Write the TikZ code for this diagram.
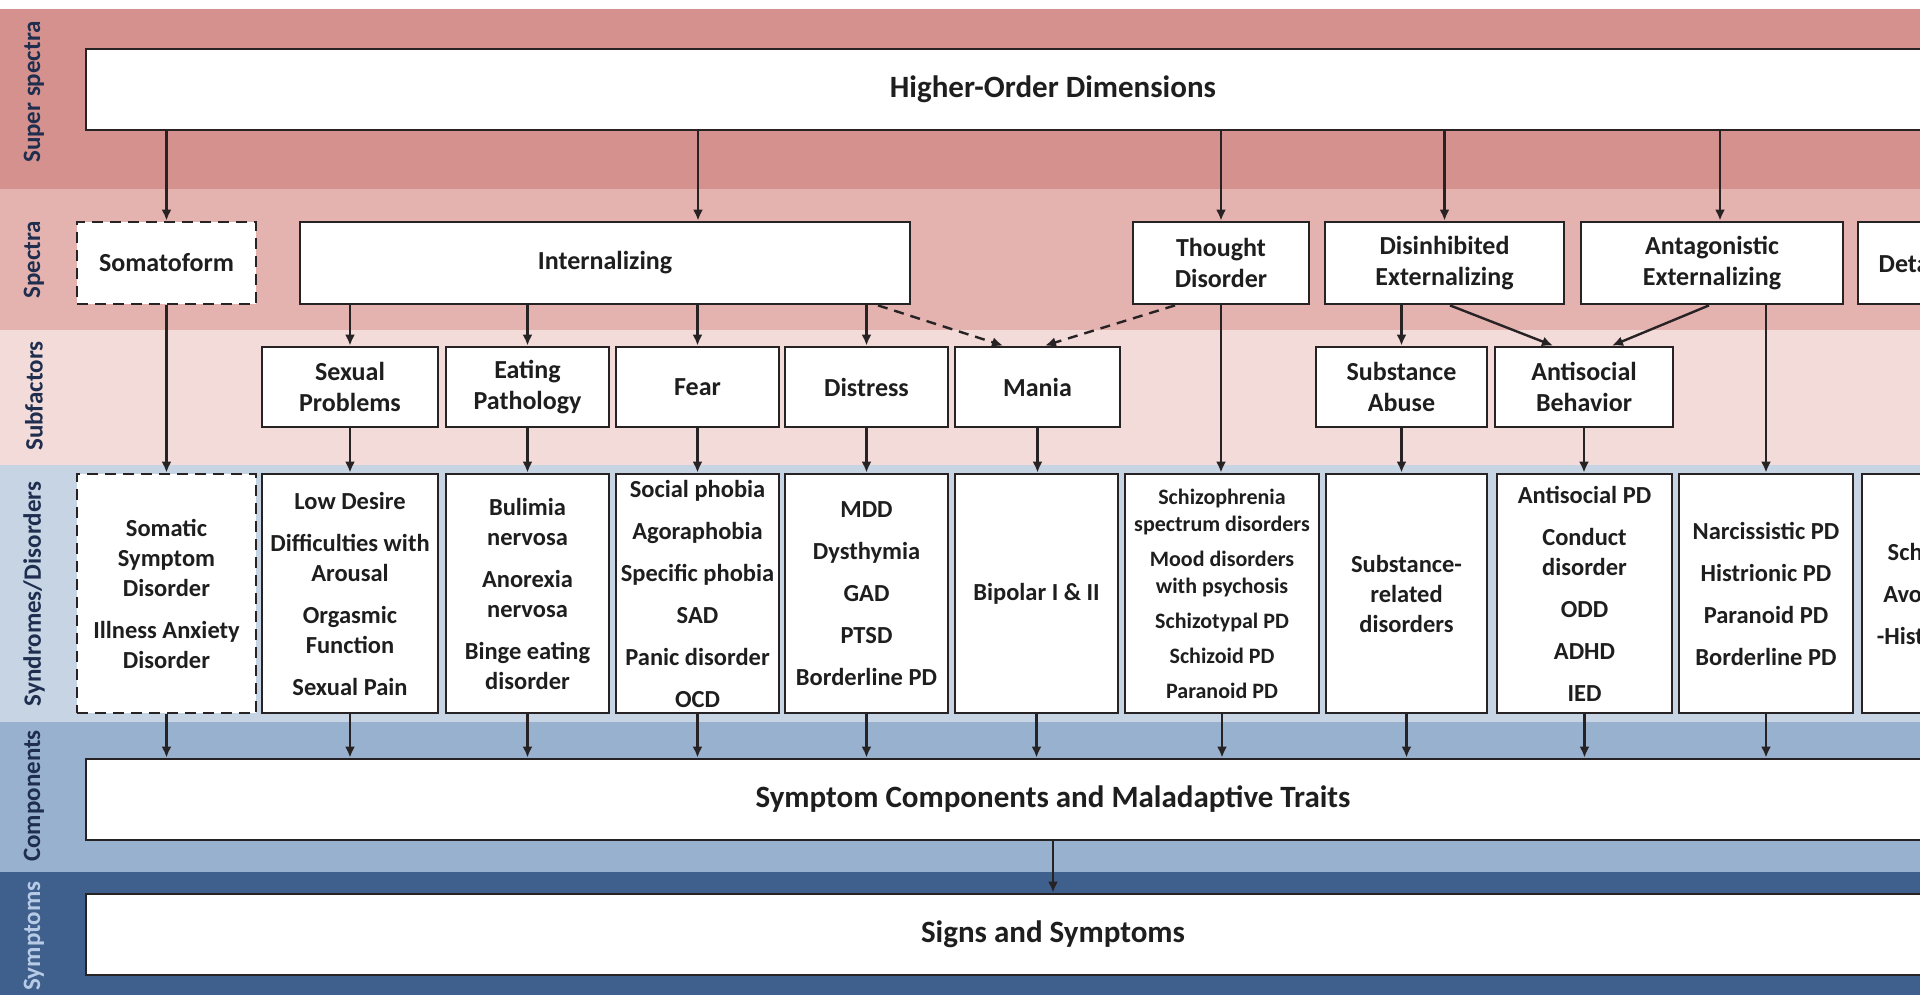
\documentclass[tikz,border=0pt]{standalone}
\usepackage{fontspec}
\setmainfont{Carlito}
\usetikzlibrary{arrows.meta,calc}
\definecolor{bandA}{HTML}{D4918D}
\definecolor{bandB}{HTML}{E4B3AF}
\definecolor{bandC}{HTML}{F2DBD9}
\definecolor{bandD}{HTML}{C6D4E4}
\definecolor{bandE}{HTML}{97B1CF}
\definecolor{bandF}{HTML}{3F5F8C}
\definecolor{lineC}{HTML}{272324}
\definecolor{txtC}{HTML}{1E1E1E}
\definecolor{labDark}{HTML}{1F2E4E}
\definecolor{labLight}{HTML}{B7CBE6}
\begin{document}
\begin{tikzpicture}[x=1pt,y=-1pt,
  box/.style={draw=lineC, line width=2.8pt, fill=white, inner sep=0pt, align=center, text=txtC},
  dbox/.style={box, dash pattern=on 11pt off 7pt},
  fA/.style={font=\bfseries\fontsize{31}{37}\selectfont},
  fB/.style={font=\bfseries\fontsize{26}{31}\selectfont},
  fC/.style={font=\bfseries\fontsize{24.5}{30}\selectfont},
  fD/.style={font=\bfseries\fontsize{22}{27}\selectfont},
  arr/.style={draw=lineC, line width=2.4pt, -{Latex[length=11pt,width=10pt]}},
  darr/.style={arr, dash pattern=on 10pt off 7pt},
  lab/.style={rotate=90, font=\bfseries\fontsize{25}{30}\selectfont, text=labDark, inner sep=0pt}
]
\useasboundingbox (0,0) rectangle (1920,995);
\clip (0,0) rectangle (1920,995);
\fill[white] (0,0) rectangle (1920,995);
% bands
\fill[bandA] (0,9) rectangle (1920,189);
\fill[bandB] (0,189) rectangle (1920,330);
\fill[bandC] (0,330) rectangle (1920,465);
\fill[bandD] (0,465) rectangle (1920,722);
\fill[bandE] (0,722) rectangle (1920,872);
\fill[bandF] (0,872) rectangle (1920,995);
% row labels
\node[lab] (lA) at (34,92) {Super spectra};
\node[lab] (lB) at (34,260) {Spectra};
\node[lab] (lC) at (34,396) {Subfactors};
\node[lab] (lD) at (34,594) {Syndromes/Disorders};
\node[lab] (lE) at (34,796) {Components};
\node[lab, text=labLight] (lF) at (34,936) {Symptoms};
% top and bottom wide boxes
\node[box, fA, minimum width=1934, minimum height=81] (hod) at (1053,89.5) {Higher-Order Dimensions};
\node[box, fA, minimum width=1934, minimum height=81] (comp) at (1053,799.5) {Symptom Components and Maladaptive Traits};
\node[box, fA, minimum width=1934, minimum height=81] (signs) at (1053,934.5) {Signs and Symptoms};
% spectra
\node[dbox, fB, minimum width=179, minimum height=82] (soma) at (166.5,263) {Somatoform};
\node[box, fB, minimum width=610, minimum height=82] (int) at (605,263) {Internalizing};
\node[box, fB, minimum width=176, minimum height=82] (thought) at (1221,263) {Thought\\Disorder};
\node[box, fB, minimum width=239, minimum height=82] (disinh) at (1444.5,263) {Disinhibited\\Externalizing};
\node[box, fB, minimum width=262, minimum height=82] (antag) at (1712,263) {Antagonistic\\Externalizing};
\node[box, fB, minimum width=174, minimum height=82] (detach) at (1945,263) {Detachment};
% subfactors
\node[box, fB, minimum width=176, minimum height=80] (sexual) at (350,387) {Sexual\\Problems};
\node[box, fB, minimum width=163, minimum height=80] (eating) at (527.5,387) {Eating\\Pathology};
\node[box, fB, minimum width=163, minimum height=80] (fear) at (697.5,387) {Fear};
\node[box, fB, minimum width=163, minimum height=80] (distress) at (866.5,387) {Distress};
\node[box, fB, minimum width=165, minimum height=80] (mania) at (1037.5,387) {Mania};
\node[box, fB, minimum width=171, minimum height=80] (subab) at (1401.5,387) {Substance\\Abuse};
\node[box, fB, minimum width=178, minimum height=80] (antib) at (1584,387) {Antisocial\\Behavior};
% syndromes / disorders
\node[dbox, fC, minimum width=179, minimum height=239] (somatic) at (166.5,593.5) {Somatic\\Symptom\\Disorder\\[12pt]Illness Anxiety\\Disorder};
\node[box, fC, minimum width=176, minimum height=239] (lowd) at (350,593.5) {Low Desire\\[12pt]Difficulties with\\Arousal\\[12pt]Orgasmic\\Function\\[12pt]Sexual Pain};
\node[box, fC, minimum width=163, minimum height=239] (bulim) at (527.5,593.5) {Bulimia\\nervosa\\[12pt]Anorexia\\nervosa\\[12pt]Binge eating\\disorder};
\node[box, fC, minimum width=163, minimum height=239] (socph) at (697.5,593.5) {Social phobia\\[12pt]Agoraphobia\\[12pt]Specific phobia\\[12pt]SAD\\[12pt]Panic disorder\\[12pt]OCD};
\node[box, fC, minimum width=163, minimum height=239] (mdd) at (866.5,593.5) {MDD\\[12pt]Dysthymia\\[12pt]GAD\\[12pt]PTSD\\[12pt]Borderline PD};
\node[box, fC, minimum width=163, minimum height=239] (bipol) at (1036.5,593.5) {Bipolar I \& II};
\node[box, fD, minimum width=194, minimum height=239] (schiz) at (1222,593.5) {Schizophrenia\\spectrum disorders\\[8pt]Mood disorders\\with psychosis\\[8pt]Schizotypal PD\\[8pt]Schizoid PD\\[8pt]Paranoid PD};
\node[box, fC, minimum width=161, minimum height=239] (subrel) at (1406.5,593.5) {Substance-\\related\\disorders};
\node[box, fC, minimum width=175, minimum height=239] (antpd) at (1584.5,593.5) {Antisocial PD\\[12pt]Conduct\\disorder\\[12pt]ODD\\[12pt]ADHD\\[12pt]IED};
\node[box, fC, minimum width=174, minimum height=239] (narc) at (1766,593.5) {Narcissistic PD\\[12pt]Histrionic PD\\[12pt]Paranoid PD\\[12pt]Borderline PD};
\node[box, fC, minimum width=168, minimum height=239] (detd) at (1946,593.5) {Schizoid PD\\[12pt]Avoidant PD\\[12pt]-Histrionic PD};
% helper x positions
\coordinate (xInt) at (698,0);
\coordinate (xAnt) at (1720,0);
\coordinate (xa) at (878,0);
\coordinate (xb) at (1003,0);
\coordinate (xc) at (1175,0);
\coordinate (xd) at (1045,0);
\coordinate (xe) at (1450,0);
\coordinate (xf) at (1553,0);
\coordinate (xg) at (1709,0);
\coordinate (xh) at (1612,0);
% super spectra -> spectra
\draw[arr] (hod.south -| soma.north) -- (soma.north);
\draw[arr] (hod.south -| xInt) -- (int.north -| xInt);
\draw[arr] (hod.south -| thought.north) -- (thought.north);
\draw[arr] (hod.south -| disinh.north) -- (disinh.north);
\draw[arr] (hod.south -| xAnt) -- (antag.north -| xAnt);
% spectra -> subfactors
\draw[arr] (int.south -| sexual.north) -- (sexual.north);
\draw[arr] (int.south -| eating.north) -- (eating.north);
\draw[arr] (int.south -| fear.north) -- (fear.north);
\draw[arr] (int.south -| distress.north) -- (distress.north);
\draw[darr] (int.south -| xa) -- (mania.north -| xb);
\draw[darr] (thought.south -| xc) -- (mania.north -| xd);
\draw[arr] (disinh.south -| subab.north) -- (subab.north);
\draw[arr] (disinh.south -| xe) -- (antib.north -| xf);
\draw[arr] (antag.south -| xg) -- (antib.north -| xh);
% spectra -> syndromes directly
\draw[arr] (soma.south) -- (somatic.north);
\draw[arr] (thought.south) -- (thought.south |- schiz.north);
\draw[arr] (antag.south -| narc.north) -- (narc.north);
% subfactors -> syndromes
\draw[arr] (sexual.south) -- (sexual.south |- lowd.north);
\draw[arr] (eating.south) -- (eating.south |- bulim.north);
\draw[arr] (fear.south) -- (fear.south |- socph.north);
\draw[arr] (distress.south) -- (distress.south |- mdd.north);
\draw[arr] (mania.south) -- (mania.south |- bipol.north);
\draw[arr] (subab.south) -- (subab.south |- subrel.north);
\draw[arr] (antib.south) -- (antib.south |- antpd.north);
% syndromes -> components
\foreach \n in {somatic,lowd,bulim,socph,mdd,bipol,schiz,subrel,antpd,narc}
  \draw[arr] (\n.south) -- (\n.south |- comp.north);
% components -> signs
\draw[arr] (comp.south) -- (signs.north);
\end{tikzpicture}
\end{document}
